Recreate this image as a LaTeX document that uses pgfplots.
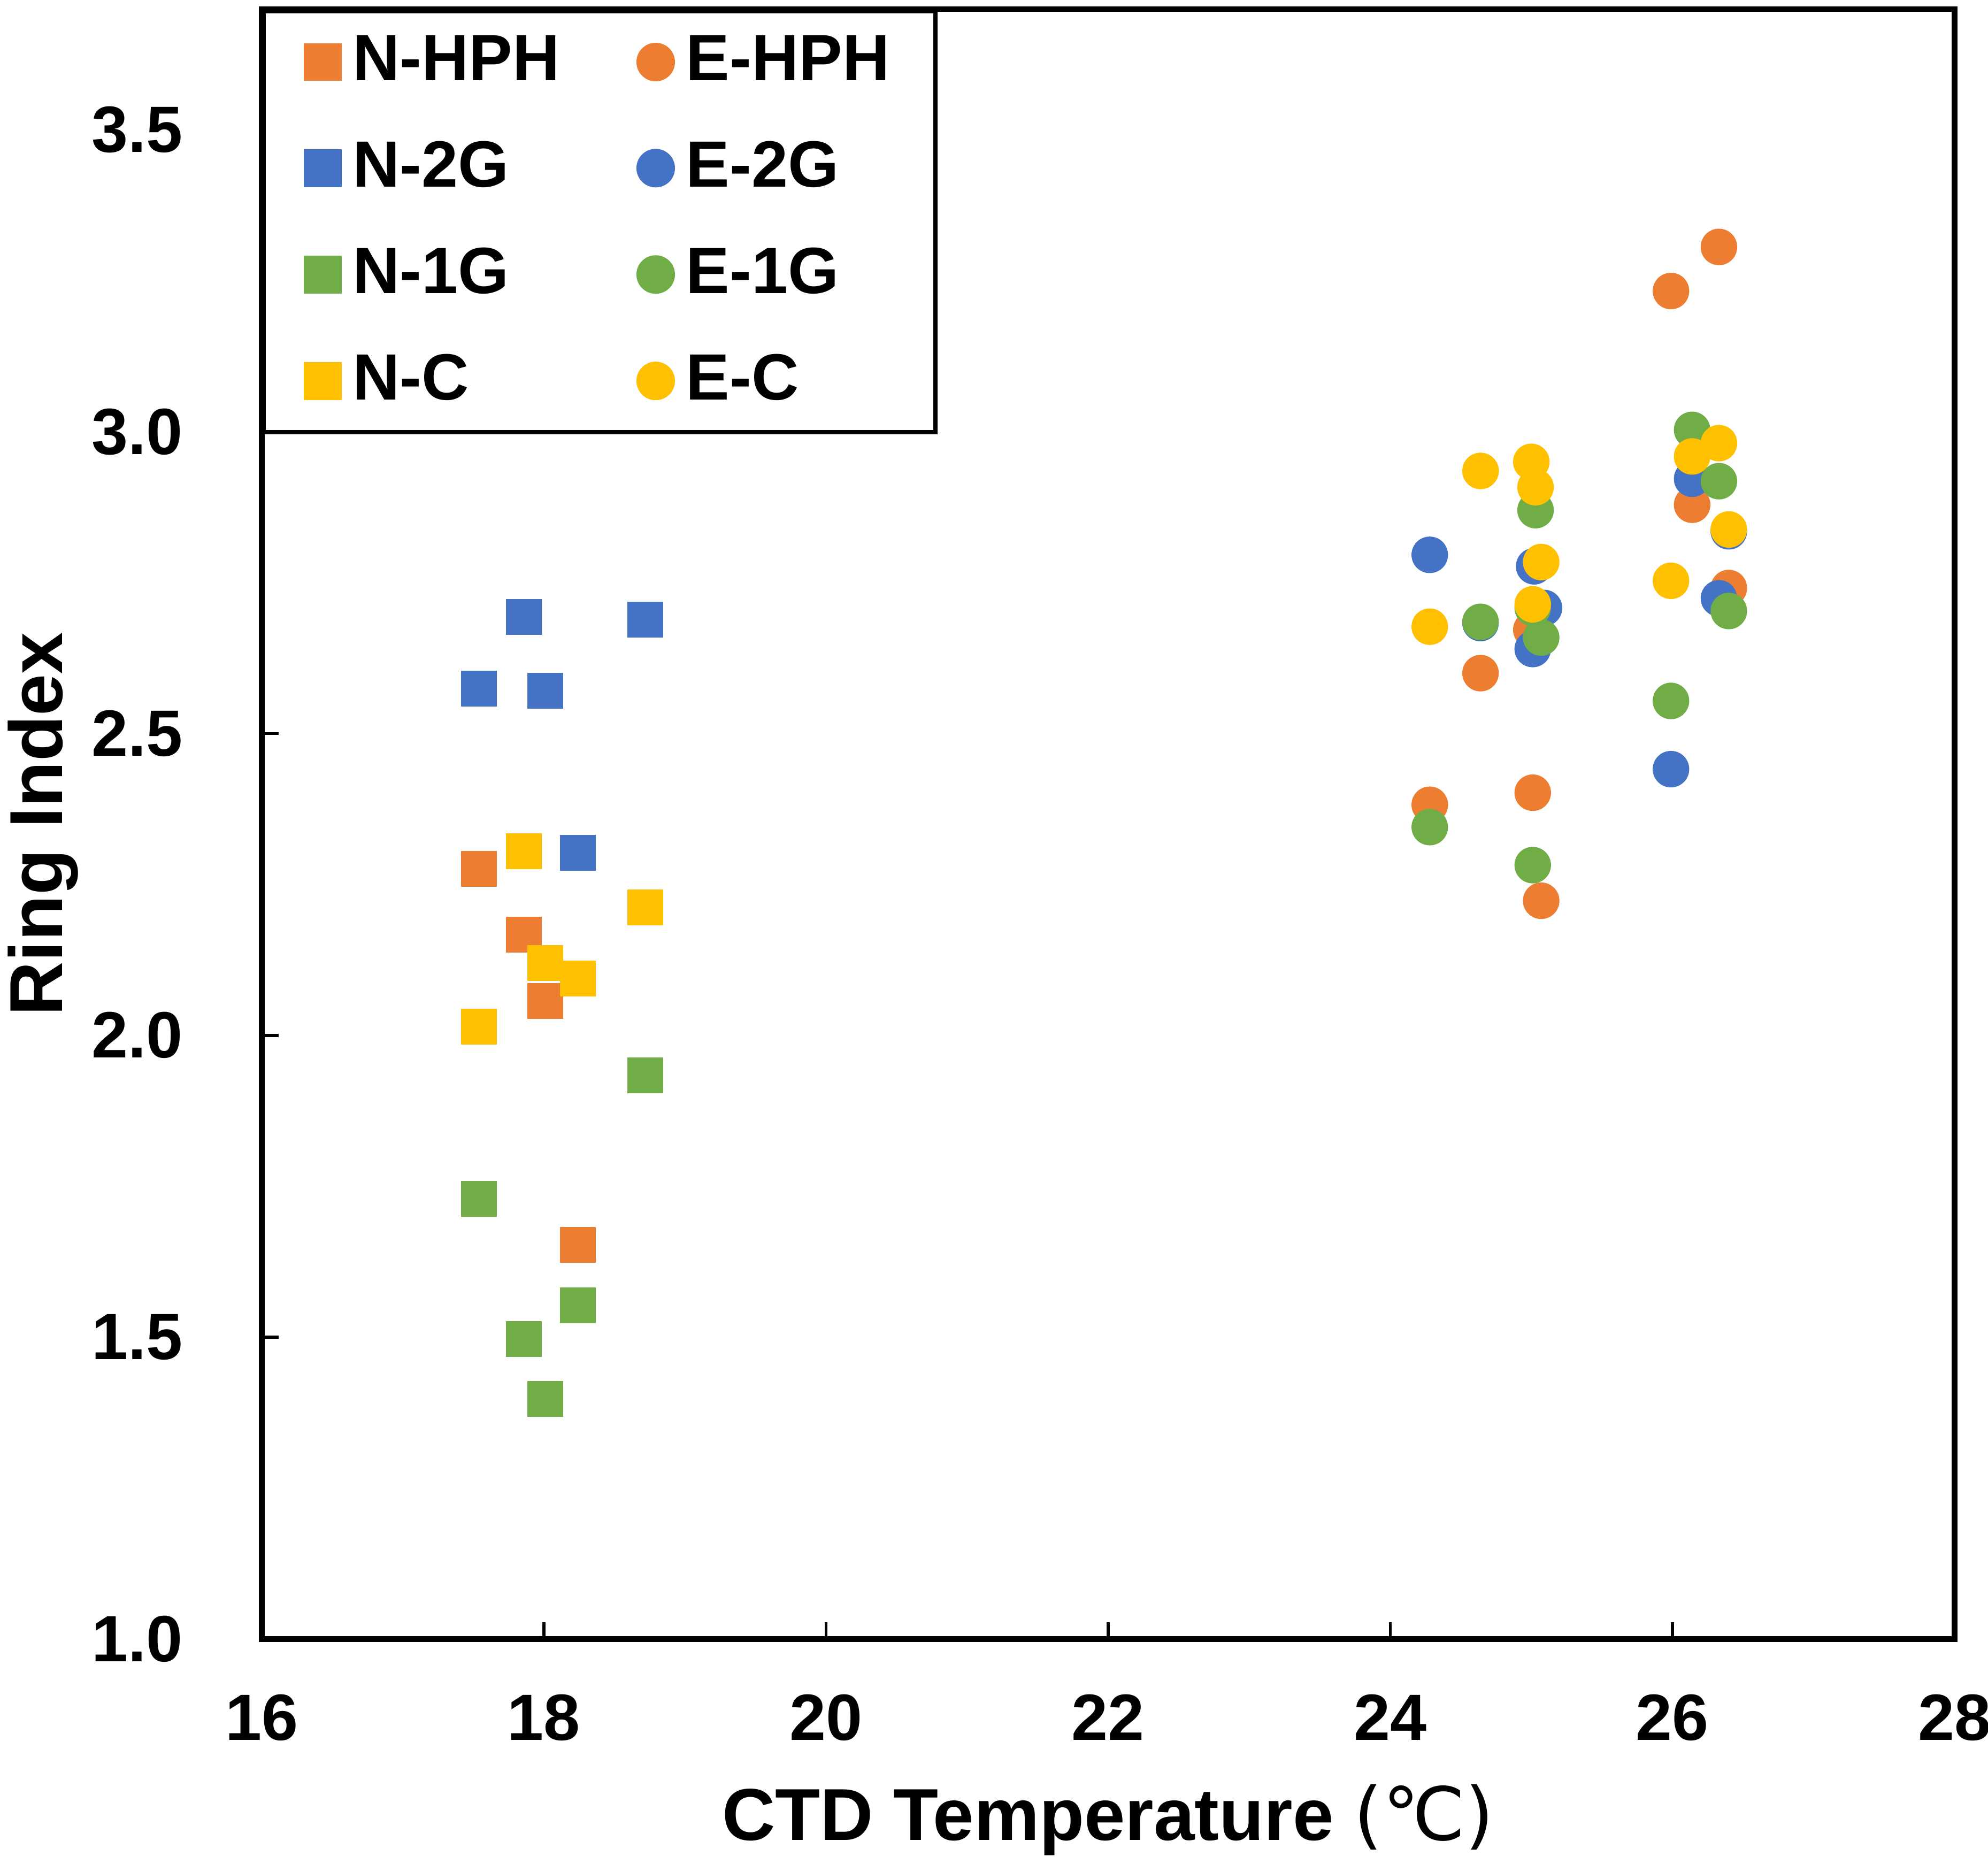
\documentclass[border=0pt]{standalone}
\usepackage{pgfplots}
\pgfplotsset{compat=1.18}
\usepackage{fontspec}
\setmainfont{Liberation Sans}
\newfontfamily\dejavu{DejaVu Sans}
\definecolor{cOr}{HTML}{ED7D31}
\definecolor{cBl}{HTML}{4472C4}
\definecolor{cGr}{HTML}{70AD47}
\definecolor{cYe}{HTML}{FFC000}
\pgfplotsset{
  sq/.style={only marks, mark=square*, mark size=3.33pt, color=#1, mark options={draw=none, fill=#1},
    legend image code/.code={\path (0pt,0pt); \draw[##1] plot coordinates {(4.8pt,0pt)};}},
  ci/.style={only marks, mark=*, mark size=3.4pt, color=#1, mark options={draw=none, fill=#1},
    legend image code/.code={\path (0pt,0pt); \draw[##1] plot coordinates {(4.8pt,0pt)};}},
}
\begin{document}
\begin{tikzpicture}
\begin{axis}[
  name=ax,
  scale only axis,
  width=333.75pt, height=321.35pt,
  xmin=16, xmax=28, ymin=1, ymax=3.7,
  xtick={16,18,20,22,24,26,28},
  ytick={1,1.5,2,2.5,3,3.5},
  xtick pos=bottom, ytick pos=left,
  tick align=inside,
  major tick length=3.3pt,
  tick style={black, line width=0.6pt},
  axis line style={black, line width=1.1pt},
  /pgf/number format/assume math mode=true,
  ticklabel style={font=\bfseries\fontsize{12.9}{15}\selectfont},
  yticklabel style={/pgf/number format/.cd, fixed, fixed zerofill, precision=1, /tikz/.cd, xshift=-12pt},
  xticklabel style={yshift=-7.4pt},
  every axis x label/.style={at={(axis description cs:0.5,-0.1233)}, anchor=base},
  every axis y label/.style={at={(axis description cs:-0.1178,0.5)}, rotate=90, anchor=base},
  xlabel={\bfseries\fontsize{14.5}{18}\selectfont CTD Temperature {\dejavu\mdseries(℃)}},
  ylabel={\bfseries\fontsize{14.8}{18}\selectfont Ring Index},
  legend columns=2,
  legend cell align=left,
  legend style={at={(0,1)}, anchor=north west, draw=black, line width=0.8pt, fill=white,
    inner xsep=6.4pt, inner ysep=2.25pt, row sep=5.27pt,
    font=\bfseries\fontsize{12.9}{15}\selectfont,
    nodes={inner xsep=2.6pt, inner ysep=2.6pt},
    /tikz/every even column/.append style={column sep=11.1pt}},
]
% N-HPH
\addplot[sq=cOr] coordinates {(17.54,2.276) (17.86,2.167) (18.01,2.057) (18.24,1.653)};
\addlegendentry{N-HPH}
% E-HPH
\addplot[ci=cOr] coordinates {(24.28,2.382) (24.64,2.600) (25.01,2.402) (25.00,2.672) (25.07,2.223) (25.99,3.233) (26.14,2.879) (26.33,3.306) (26.40,2.741)};
\addlegendentry{E-HPH}
% N-2G
\addplot[sq=cBl] coordinates {(17.54,2.574) (17.86,2.693) (18.01,2.571) (18.24,2.302) (18.72,2.689)};
\addlegendentry{N-2G}
% E-2G
\addplot[ci=cBl] coordinates {(24.28,2.796) (24.64,2.683) (25.02,2.777) (25.01,2.640) (25.09,2.708) (25.99,2.441) (26.14,2.922) (26.33,2.724) (26.40,2.835)};
\addlegendentry{E-2G}
% N-1G
\addplot[sq=cGr] coordinates {(17.54,1.729) (17.86,1.497) (18.01,1.398) (18.24,1.553) (18.72,1.934)};
\addlegendentry{N-1G}
% E-1G
\addplot[ci=cGr] coordinates {(24.28,2.345) (24.64,2.685) (25.03,2.870) (25.01,2.282) (25.01,2.708) (25.07,2.659) (25.99,2.554) (26.14,3.003) (26.33,2.918) (26.40,2.703)};
\addlegendentry{E-1G}
% N-C
\addplot[sq=cYe] coordinates {(17.54,2.014) (17.86,2.305) (18.01,2.120) (18.24,2.094) (18.72,2.212)};
\addlegendentry{N-C}
% E-C
\addplot[ci=cYe] coordinates {(24.28,2.677) (24.64,2.935) (25.00,2.950) (25.03,2.908) (25.01,2.714) (25.07,2.784) (25.99,2.753) (26.14,2.959) (26.33,2.981) (26.40,2.838)};
\addlegendentry{E-C}
\end{axis}
\pgfresetboundingbox
\useasboundingbox ([shift={(-51.6pt,-44.3pt)}]ax.south west) rectangle ([shift={(6.6pt,1.8pt)}]ax.north east);
\end{tikzpicture}
\end{document}
